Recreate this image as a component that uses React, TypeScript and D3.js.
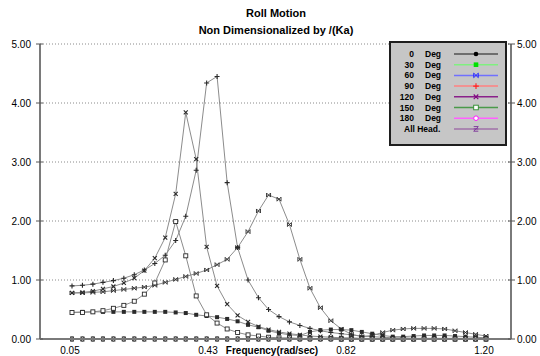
import { useEffect, useRef } from 'react';
import * as d3 from 'd3';

// Wave frequencies (rad/sec), 41 points from 0.05 to 1.20
const freqs = [
    0.05, 0.079, 0.108, 0.136, 0.165, 0.194, 0.223, 0.251, 0.28, 0.309,
    0.338, 0.366, 0.395, 0.424, 0.453, 0.481, 0.51, 0.539, 0.568, 0.596,
    0.625, 0.654, 0.683, 0.711, 0.74, 0.769, 0.798, 0.826, 0.855, 0.884,
    0.913, 0.941, 0.97, 0.999, 1.028, 1.056, 1.085, 1.114, 1.143, 1.171, 1.2
];

const deg0 = [
    0, 0, 0, 0, 0, 0, 0, 0, 0, 0,
    0, 0, 0, 0, 0, 0, 0, 0, 0, 0,
    0, 0, 0, 0, 0, 0, 0, 0, 0, 0,
    0, 0, 0, 0, 0, 0, 0, 0, 0, 0, 0
];
const deg30 = [
    0.45, 0.46, 0.46, 0.46, 0.46, 0.46, 0.46, 0.46, 0.46, 0.46,
    0.45, 0.44, 0.41, 0.39, 0.37, 0.34, 0.30, 0.24, 0.20, 0.14,
    0.10, 0.07, 0.06, 0.12, 0.15, 0.16, 0.16, 0.15, 0.12, 0.09,
    0.06, 0.04, 0.04, 0.05, 0.06, 0.06, 0.06, 0.05, 0.04, 0.03, 0.02
];
const deg60 = [
    0.78, 0.78, 0.79, 0.80, 0.82, 0.84, 0.86, 0.88, 0.91, 0.96,
    1.01, 1.06, 1.11, 1.17, 1.26, 1.35, 1.55, 1.82, 2.17, 2.44,
    2.37, 1.94, 1.35, 0.86, 0.53, 0.31, 0.17, 0.08, 0.04, 0.06,
    0.11, 0.15, 0.17, 0.18, 0.18, 0.18, 0.17, 0.14, 0.11, 0.08, 0.05
];
const deg90 = [
    0.90, 0.91, 0.93, 0.96, 0.99, 1.03, 1.09, 1.17, 1.28, 1.42,
    1.67, 2.08, 2.86, 4.34, 4.45, 2.65, 1.55, 1.00, 0.70, 0.50,
    0.38, 0.29, 0.23, 0.18, 0.14, 0.11, 0.09, 0.07, 0.05, 0.04,
    0.03, 0.02, 0.02, 0.01, 0.01, 0.01, 0.01, 0.01, 0.01, 0.01, 0.01
];
const deg120 = [
    0.78, 0.79, 0.81, 0.85, 0.89, 0.95, 1.03, 1.16, 1.37, 1.72,
    2.46, 3.84, 3.05, 1.56, 0.90, 0.59, 0.40, 0.29, 0.21, 0.16,
    0.12, 0.09, 0.07, 0.05, 0.04, 0.03, 0.02, 0.02, 0.01, 0.01,
    0.01, 0.01, 0.01, 0.01, 0.01, 0.01, 0.01, 0.01, 0.01, 0.01, 0.01
];
const deg150 = [
    0.45, 0.45, 0.46, 0.48, 0.52, 0.57, 0.64, 0.76, 0.95, 1.34,
    1.99, 1.41, 0.73, 0.41, 0.27, 0.17, 0.11, 0.07, 0.05, 0.03,
    0.02, 0.02, 0.01, 0.01, 0.01, 0.01, 0, 0, 0, 0,
    0, 0, 0, 0, 0, 0, 0, 0, 0, 0, 0
];
const deg180 = [
    0, 0, 0, 0, 0, 0, 0, 0, 0, 0,
    0, 0, 0, 0, 0, 0, 0, 0, 0, 0,
    0, 0, 0, 0, 0, 0, 0, 0, 0, 0,
    0, 0, 0, 0, 0, 0, 0, 0, 0, 0, 0
];
const allHead = [
    0, 0, 0, 0, 0, 0, 0, 0, 0, 0,
    0, 0, 0, 0, 0, 0, 0, 0, 0, 0,
    0, 0, 0, 0, 0, 0, 0, 0, 0, 0,
    0, 0, 0, 0, 0, 0, 0, 0, 0, 0, 0
];

const legendNums = ['0', '30', '60', '90', '120', '150', '180'];
const xTicks = [0.05, 0.4333, 0.8167, 1.2];
const yTicks = [0, 1, 2, 3, 4, 5];

type Marker = 'dot' | 'square' | 'bowtie' | 'plus' | 'cross' | 'openSquare' | 'openCircle' | 'zed';

const seriesList: { name: string; values: number[]; marker: Marker; color: string; lineColor: string }[] = [
    { name: 'All Head.', values: allHead, marker: 'zed', color: '#803c9c', lineColor: '#a070a8' },
    { name: '0', values: deg0, marker: 'dot', color: '#000000', lineColor: '#505050' },
    { name: '30', values: deg30, marker: 'square', color: '#00e000', lineColor: '#80f080' },
    { name: '60', values: deg60, marker: 'bowtie', color: '#2020ff', lineColor: '#7070ff' },
    { name: '90', values: deg90, marker: 'plus', color: '#ff2020', lineColor: '#ff8080' },
    { name: '120', values: deg120, marker: 'cross', color: '#800080', lineColor: '#8a208a' },
    { name: '150', values: deg150, marker: 'openSquare', color: '#2a8a2a', lineColor: '#4a9a4a' },
    { name: '180', values: deg180, marker: 'openCircle', color: '#ff00ff', lineColor: '#ff60ff' },
];

const font = '"Liberation Sans", Arial, sans-serif';

function drawMarker(g: d3.Selection<SVGGElement, unknown, null, undefined>, type: Marker, x: number, y: number, color: string, s = 2) {
    switch (type) {
        case 'dot':
            g.append('circle').attr('cx', x).attr('cy', y).attr('r', s).attr('fill', color);
            break;
        case 'square':
            g.append('rect').attr('x', x - s).attr('y', y - s).attr('width', 2 * s).attr('height', 2 * s).attr('fill', color);
            break;
        case 'openSquare':
            g.append('rect').attr('x', x - s).attr('y', y - s).attr('width', 2 * s).attr('height', 2 * s)
                .attr('fill', '#fff').attr('stroke', color).attr('stroke-width', 0.9);
            break;
        case 'openCircle':
            g.append('circle').attr('cx', x).attr('cy', y).attr('r', s).attr('fill', '#fff').attr('stroke', color).attr('stroke-width', 0.9);
            break;
        case 'bowtie':
            g.append('path').attr('d', `M${x - s},${y - s}L${x + s},${y + s}V${y - s}L${x - s},${y + s}Z`)
                .attr('fill', 'none').attr('stroke', color).attr('stroke-width', 0.9);
            break;
        case 'plus':
            g.append('path').attr('d', `M${x - s - 0.5},${y}H${x + s + 0.5}M${x},${y - s - 0.5}V${y + s + 0.5}`)
                .attr('stroke', color).attr('stroke-width', 1.1);
            break;
        case 'cross':
            g.append('path').attr('d', `M${x - s},${y - s}L${x + s},${y + s}M${x - s},${y + s}L${x + s},${y - s}`)
                .attr('stroke', color).attr('stroke-width', 1.1);
            break;
        case 'zed':
            g.append('path').attr('d', `M${x - s},${y - s}H${x + s}L${x - s},${y + s}H${x + s}M${x - s},${y}H${x + s}`)
                .attr('fill', 'none').attr('stroke', color).attr('stroke-width', 1);
            break;
    }
}

const RollChart: React.FC = () => {
    const svgRef = useRef<SVGSVGElement>(null);

    useEffect(() => {
        if (!svgRef.current) return;
        const svg = d3.select(svgRef.current);
        svg.selectAll('*').remove();

        const frameLeft = 40;
        const frameRight = 511;

        const xScale = d3.scaleLinear().domain([0.05, 1.2]).range([72, 486]);
        const yScale = d3.scaleLinear().domain([0, 5]).range([339, 44]);

        const g = svg.append('g');

        // Title
        g.append('text').attr('x', 276).attr('y', 17).attr('text-anchor', 'middle')
            .style('font-family', font).style('font-size', '11px').style('font-weight', 'bold').text('Roll Motion');
        g.append('text').attr('x', 276).attr('y', 34).attr('text-anchor', 'middle')
            .style('font-family', font).style('font-size', '11px').style('font-weight', 'bold').text('Non Dimensionalized by /(Ka)');

        // Grid lines
        yTicks.filter(t => t > 0).forEach(t => {
            g.append('line')
                .attr('x1', frameLeft).attr('x2', frameRight)
                .attr('y1', yScale(t)).attr('y2', yScale(t))
                .attr('stroke', '#8a8a8a').attr('stroke-width', 1).attr('stroke-dasharray', '1,2');
        });

        // Series
        const line = d3.line<number>()
            .x((_, i) => xScale(freqs[i]))
            .y(d => yScale(d));

        seriesList.forEach(s => {
            g.append('path')
                .datum(s.values)
                .attr('d', line)
                .attr('fill', 'none')
                .attr('stroke', '#8c8c8c')
                .attr('stroke-width', 1);
        });
        seriesList.forEach(s => {
            const mg = g.append('g');
            s.values.forEach((v, i) => drawMarker(mg, s.marker, xScale(freqs[i]), yScale(v), '#2a2a2a'));
        });

        // Axes
        const axisColor = '#7a7a7a';
        g.append('line').attr('x1', frameLeft).attr('x2', frameLeft).attr('y1', yScale(5)).attr('y2', yScale(0))
            .attr('stroke', axisColor).attr('stroke-width', 2);
        g.append('line').attr('x1', frameRight).attr('x2', frameRight).attr('y1', yScale(5)).attr('y2', yScale(0))
            .attr('stroke', axisColor).attr('stroke-width', 2);
        g.append('line').attr('x1', frameLeft).attr('x2', frameRight).attr('y1', yScale(0)).attr('y2', yScale(0))
            .attr('stroke', axisColor).attr('stroke-width', 2);

        yTicks.forEach(t => {
            const y = yScale(t);
            g.append('line').attr('x1', frameLeft - 4).attr('x2', frameLeft + 3).attr('y1', y).attr('y2', y)
                .attr('stroke', '#555').attr('stroke-width', 1);
            g.append('line').attr('x1', frameRight - 3).attr('x2', frameRight + 4).attr('y1', y).attr('y2', y)
                .attr('stroke', '#555').attr('stroke-width', 1);
            g.append('text').attr('x', 31).attr('y', y + 3.5).attr('text-anchor', 'end')
                .style('font-family', font).style('font-size', '10px').text(t.toFixed(2));
            g.append('text').attr('x', 517).attr('y', y + 3.5).attr('text-anchor', 'start')
                .style('font-family', font).style('font-size', '10px').text(t.toFixed(2));
        });

        xTicks.forEach(t => {
            g.append('text').attr('x', xScale(t) - 2).attr('y', 354).attr('text-anchor', 'middle')
                .style('font-family', font).style('font-size', '10px').text(t.toFixed(2));
        });
        g.append('text').attr('x', 272).attr('y', 354).attr('text-anchor', 'middle')
            .style('font-family', font).style('font-size', '10px').style('font-weight', 'bold').text('Frequency(rad/sec)');

        // Legend
        const lg = g.append('g');
        lg.append('rect').attr('x', 390).attr('y', 42).attr('width', 116).attr('height', 103)
            .attr('fill', '#c6c6c6').attr('stroke', '#1e1e1e').attr('stroke-width', 2);
        const legendOrder = [...legendNums, 'All Head.'];
        legendOrder.forEach((name, i) => {
            const s = seriesList.find(d => d.name === name)!;
            const y = 54 + i * 10.7;
            if (name === 'All Head.') {
                lg.append('text').attr('x', 404).attr('y', y + 3)
                    .style('font-family', font).style('font-size', '8.5px').style('font-weight', 'bold').text(name);
            } else {
                lg.append('text').attr('x', 414).attr('y', y + 3).attr('text-anchor', 'end')
                    .style('font-family', font).style('font-size', '8.5px').style('font-weight', 'bold').text(name);
                lg.append('text').attr('x', 425).attr('y', y + 3)
                    .style('font-family', font).style('font-size', '8.5px').style('font-weight', 'bold').text('Deg');
            }
            lg.append('line').attr('x1', 454).attr('x2', 498).attr('y1', y).attr('y2', y)
                .attr('stroke', s.lineColor).attr('stroke-width', 1.5);
            const mg = lg.append('g');
            drawMarker(mg, s.marker, 476, y, s.color, 2.3);
        });
    }, []);

    return (
        <svg ref={svgRef} width={540} height={356}
            style={{ position: 'fixed', left: 0, top: 0, display: 'block', background: '#fff' }}></svg>
    );
};

export default function App() {
    return <RollChart />;
}
